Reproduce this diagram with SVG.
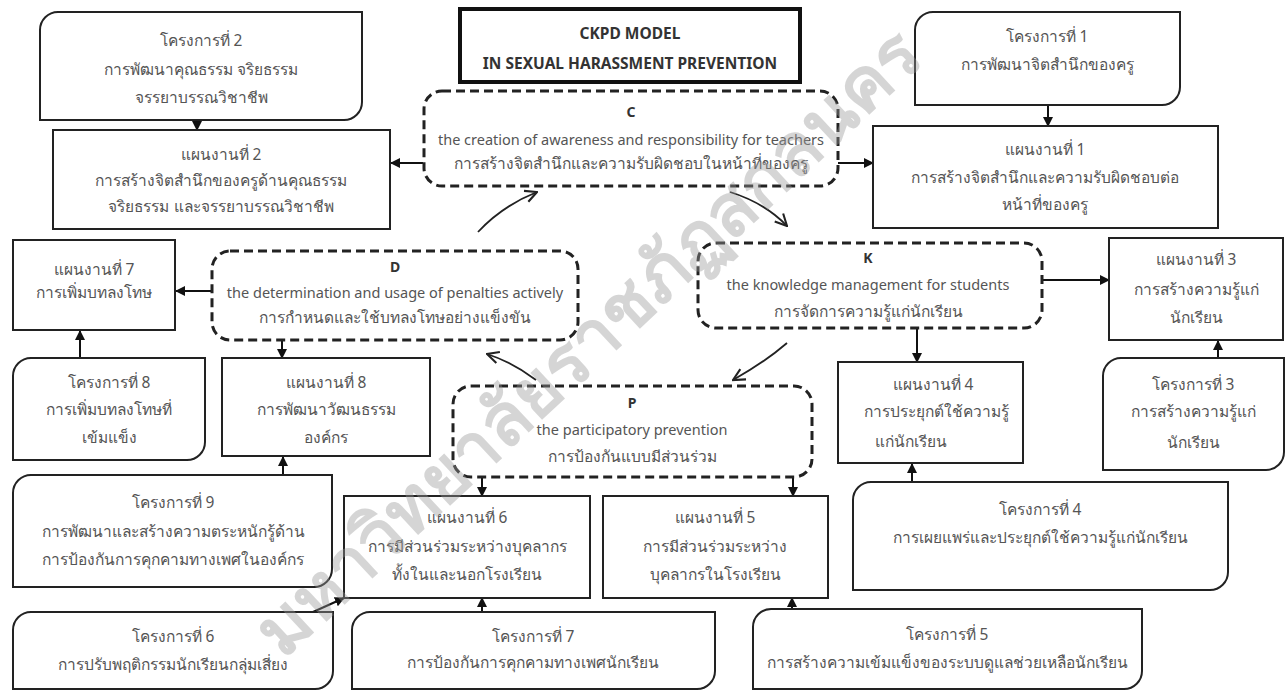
<svg xmlns="http://www.w3.org/2000/svg" width="1286" height="692" viewBox="0 0 1286 692">
<defs>
<marker id="tri" viewBox="0 0 10 10" refX="9" refY="5" markerWidth="10" markerHeight="10" markerUnits="userSpaceOnUse" orient="auto">
<path d="M0,0 L10,5 L0,10 Z" fill="#111"/>
</marker>
<marker id="open" viewBox="0 0 12 12" refX="11" refY="6" markerWidth="14" markerHeight="14" markerUnits="userSpaceOnUse" orient="auto">
<path d="M1,1 L11,6 L1,11" fill="none" stroke="#222" stroke-width="1.8"/>
</marker>
<style>
.box{fill:#fff;stroke:#222;stroke-width:2}
.proj{fill:#fff;stroke:#222;stroke-width:2}
.dash{fill:#fff;stroke:#222;stroke-width:3;stroke-dasharray:9 5}
.title{fill:#fff;stroke:#111;stroke-width:4}
text{font-family:"Noto Sans","Liberation Sans",sans-serif;fill:#555;font-size:15.5px;text-anchor:middle}
.tt{font-weight:bold;fill:#333;font-size:15.5px}
.en{font-size:14.5px}
.hd{font-weight:bold;fill:#333;font-size:14px}
.conn{stroke:#111;stroke-width:2;fill:none;marker-end:url(#tri)}
.curve{stroke:#222;stroke-width:1.8;fill:none;marker-end:url(#open)}
.wm{font-size:72px;font-weight:bold;fill:#999;opacity:0.4}
</style>
</defs>
<rect width="1286" height="692" fill="#fff"/>

<g id="connectors">
<line class="conn" x1="197" y1="120" x2="197" y2="130"/>
<line class="conn" x1="423" y1="163" x2="391" y2="163"/>
<line class="conn" x1="838" y1="163" x2="873" y2="163"/>
<line class="conn" x1="1048" y1="105" x2="1048" y2="126"/>
<line class="conn" x1="212" y1="291" x2="176" y2="291"/>
<line class="conn" x1="282" y1="340" x2="282" y2="358"/>
<line class="conn" x1="80" y1="358" x2="80" y2="331"/>
<line class="conn" x1="283" y1="475" x2="283" y2="457"/>
<line class="conn" x1="917" y1="328" x2="917" y2="362"/>
<line class="conn" x1="1042" y1="280" x2="1109" y2="280"/>
<line class="conn" x1="1218" y1="358" x2="1218" y2="341"/>
<line class="conn" x1="912" y1="482" x2="912" y2="464"/>
<line class="conn" x1="482" y1="477" x2="482" y2="496"/>
<line class="conn" x1="793" y1="477" x2="793" y2="496"/>
<line class="conn" x1="482" y1="612" x2="482" y2="598"/>
<line class="conn" x1="792" y1="609" x2="792" y2="598"/>
<line class="conn" x1="313" y1="612" x2="344" y2="598"/>
<path class="curve" d="M478,232 Q502,206 537,192"/>
<path class="curve" d="M730,192 Q765,203 787,226"/>
<path class="curve" d="M787,343 Q765,362 733,380"/>
<path class="curve" d="M536,380 Q512,362 487,354"/>
</g>

<g id="title">
<rect class="title" x="460" y="9" width="340" height="73"/>
<text class="tt" x="630" y="39">CKPD MODEL</text>
<text class="tt" x="630" y="69">IN SEXUAL HARASSMENT PREVENTION</text>
</g>

<g id="project2">
<path class="proj" d="M40,120 V30 A18,18 0 0 1 58,12 H362 V102 A18,18 0 0 1 344,120 Z"/>
<text x="201" y="46">โครงการที่ 2</text>
<text x="201" y="75">การพัฒนาคุณธรรม จริยธรรม</text>
<text x="201" y="103">จรรยาบรรณวิชาชีพ</text>
</g>

<g id="plan2">
<rect class="box" x="53" y="130" width="337" height="99"/>
<text x="221" y="160">แผนงานที่ 2</text>
<text x="221" y="186">การสร้างจิตสำนึกของครูด้านคุณธรรม</text>
<text x="221" y="212">จริยธรรม และจรรยาบรรณวิชาชีพ</text>
</g>

<g id="nodeC">
<rect class="dash" x="424" y="91" width="414" height="95" rx="18"/>
<text class="hd" x="631" y="117">C</text>
<text class="en" x="631" y="145">the creation of awareness and responsibility for teachers</text>
<text x="631" y="169">การสร้างจิตสำนึกและความรับผิดชอบในหน้าที่ของครู</text>
</g>

<g id="project1">
<path class="proj" d="M915,105 V30 A18,18 0 0 1 933,12 H1180 V87 A18,18 0 0 1 1162,105 Z"/>
<text x="1047" y="42">โครงการที่ 1</text>
<text x="1047" y="70">การพัฒนาจิตสำนึกของครู</text>
</g>

<g id="plan1">
<rect class="box" x="873" y="126" width="345" height="102"/>
<text x="1045" y="155">แผนงานที่ 1</text>
<text x="1045" y="183">การสร้างจิตสำนึกและความรับผิดชอบต่อ</text>
<text x="1045" y="210">หน้าที่ของครู</text>
</g>

<g id="plan7">
<rect class="box" x="13" y="240" width="162" height="90"/>
<text x="94" y="275">แผนงานที่ 7</text>
<text x="94" y="298">การเพิ่มบทลงโทษ</text>
</g>

<g id="nodeD">
<rect class="dash" x="212" y="251" width="366" height="89" rx="18"/>
<text class="hd" x="395" y="272">D</text>
<text class="en" x="395" y="298">the determination and usage of penalties actively</text>
<text x="395" y="323">การกำหนดและใช้บทลงโทษอย่างแข็งขัน</text>
</g>

<g id="project8">
<path class="proj" d="M13,460 V376 A18,18 0 0 1 31,358 H205 V442 A18,18 0 0 1 187,460 Z"/>
<text x="109" y="388">โครงการที่ 8</text>
<text x="109" y="415">การเพิ่มบทลงโทษที่</text>
<text x="109" y="443">เข้มแข็ง</text>
</g>

<g id="plan8">
<rect class="box" x="222" y="358" width="208" height="98"/>
<text x="326" y="388">แผนงานที่ 8</text>
<text x="326" y="415">การพัฒนาวัฒนธรรม</text>
<text x="326" y="443">องค์กร</text>
</g>

<g id="nodeK">
<rect class="dash" x="698" y="243" width="344" height="85" rx="18"/>
<text class="hd" x="868" y="263">K</text>
<text class="en" x="868" y="290">the knowledge management for students</text>
<text x="868" y="317">การจัดการความรู้แก่นักเรียน</text>
</g>

<g id="plan3">
<rect class="box" x="1109" y="238" width="174" height="102"/>
<text x="1196" y="265">แผนงานที่ 3</text>
<text x="1196" y="295">การสร้างความรู้แก่</text>
<text x="1196" y="323">นักเรียน</text>
</g>

<g id="plan4">
<rect class="box" x="838" y="362" width="185" height="101"/>
<text x="933" y="390">แผนงานที่ 4</text>
<text x="936" y="417">การประยุกต์ใช้ความรู้</text>
<text x="875" y="447" style="text-anchor:start">แก่นักเรียน</text>
</g>

<g id="project3">
<path class="proj" d="M1103,470 V376 A18,18 0 0 1 1121,358 H1284 V452 A18,18 0 0 1 1266,470 Z"/>
<text x="1193" y="390">โครงการที่ 3</text>
<text x="1193" y="417">การสร้างความรู้แก่</text>
<text x="1193" y="448">นักเรียน</text>
</g>

<g id="nodeP">
<rect class="dash" x="453" y="386" width="359" height="91" rx="18"/>
<text class="hd" x="632" y="408">P</text>
<text class="en" x="632" y="435">the participatory prevention</text>
<text x="632" y="462">การป้องกันแบบมีส่วนร่วม</text>
</g>

<g id="project9">
<path class="proj" d="M13,587 V493 A18,18 0 0 1 31,475 H332 V569 A18,18 0 0 1 314,587 Z"/>
<text x="173" y="508">โครงการที่ 9</text>
<text x="173" y="537">การพัฒนาและสร้างความตระหนักรู้ด้าน</text>
<text x="173" y="565">การป้องกันการคุกคามทางเพศในองค์กร</text>
</g>

<g id="plan6">
<rect class="box" x="344" y="496" width="246" height="102"/>
<text x="467" y="523">แผนงานที่ 6</text>
<text x="467" y="552">การมีส่วนร่วมระหว่างบุคลากร</text>
<text x="467" y="580">ทั้งในและนอกโรงเรียน</text>
</g>

<g id="plan5">
<rect class="box" x="603" y="496" width="225" height="102"/>
<text x="715" y="523">แผนงานที่ 5</text>
<text x="715" y="552">การมีส่วนร่วมระหว่าง</text>
<text x="715" y="580">บุคลากรในโรงเรียน</text>
</g>

<g id="project4">
<path class="proj" d="M853,590 V500 A18,18 0 0 1 871,482 H1228 V572 A18,18 0 0 1 1210,590 Z"/>
<text x="1040" y="515">โครงการที่ 4</text>
<text x="1040" y="543">การเผยแพร่และประยุกต์ใช้ความรู้แก่นักเรียน</text>
</g>

<g id="project6">
<path class="proj" d="M13,689 V630 A18,18 0 0 1 31,612 H333 V671 A18,18 0 0 1 315,689 Z"/>
<text x="173" y="642">โครงการที่ 6</text>
<text x="173" y="670">การปรับพฤติกรรมนักเรียนกลุ่มเสี่ยง</text>
</g>

<g id="project7">
<path class="proj" d="M352,689 V630 A18,18 0 0 1 370,612 H715 V671 A18,18 0 0 1 697,689 Z"/>
<text x="533" y="642">โครงการที่ 7</text>
<text x="533" y="668">การป้องกันการคุกคามทางเพศนักเรียน</text>
</g>

<g id="project5">
<path class="proj" d="M753,689 V627 A18,18 0 0 1 771,609 H1142 V671 A18,18 0 0 1 1124,689 Z"/>
<text x="947" y="640">โครงการที่ 5</text>
<text x="947" y="668">การสร้างความเข้มแข็งของระบบดูแลช่วยเหลือนักเรียน</text>
</g>

<g id="watermark">
<text class="wm" transform="translate(605,360) rotate(-43)">มหาวิทยาลัยราชภัฏสกลนคร</text>
</g>
</svg>
